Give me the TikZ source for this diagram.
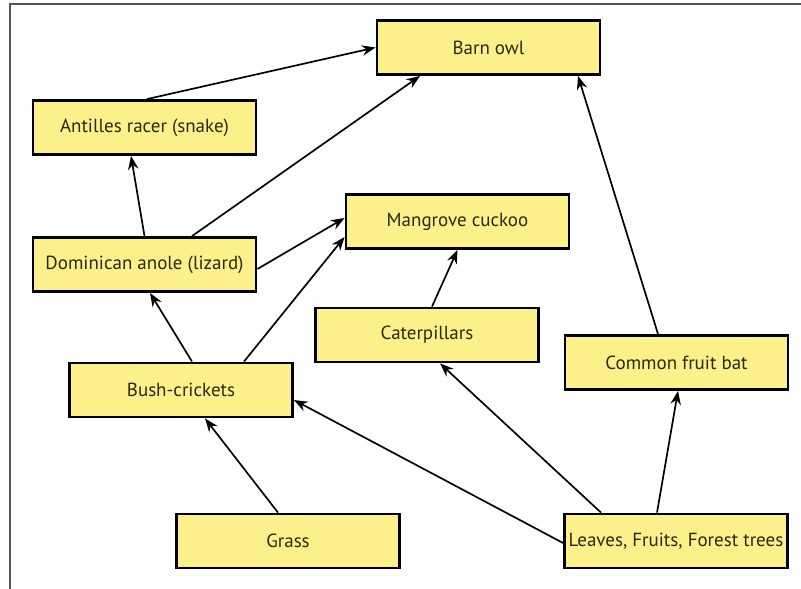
\documentclass[tikz,border=0pt]{standalone}
\usepackage{fontspec}
\setmainfont{PT Sans}
\usetikzlibrary{arrows.meta, positioning, calc}
\definecolor{cyellow}{HTML}{FBF08A}
\definecolor{cframe}{HTML}{555555}
\definecolor{ctext}{HTML}{2A2A14}
\tikzset{
  every picture/.style={font=\rmfamily},
  species/.style={draw=black, fill=cyellow, line width=2pt, minimum width=5.575cm, minimum height=1.35cm, inner sep=2pt, align=center, text=ctext, font=\rmfamily\fontsize{13.5}{15}\selectfont},
  eats/.style={-{Stealth[length=3.4mm, width=2.6mm]}, draw=black, line width=1.2pt},
}
\begin{document}
\begin{tikzpicture}[x=0.025cm, y=-0.025cm]
  \useasboundingbox (0,0) rectangle (801,589);
  \draw[cframe, line width=1pt] (10,589) -- (10,4) -- (801,4);

  \node[species] (owl) at (488.5,47.5) {Barn owl};
  \node[species] (ant) at (144.5,127.5) {Antilles racer (snake)};
  \node[species] (dom) at (144.5,264.5) {Dominican anole (lizard)};
  \node[species] (man) at (457.5,221.5) {Mangrove cuckoo};
  \node[species] (cat) at (427,335) {Caterpillars};
  \node[species] (bat) at (676.5,362.5) {Common fruit bat};
  \node[species] (bush) at (181,390) {Bush-crickets};
  \node[species] (grass) at (288,541) {Grass};
  \node[species] (leaf) at (676,541) {Leaves, Fruits, Forest trees};

  % who is eaten by whom
  \draw[eats] ($(ant.north)+(2.5,0)$) -- (owl.west);
  \draw[eats] ($(dom.north)+(47.5,0)$) -- ($(owl.south)+(-68.5,0)$);
  \draw[eats] (dom.north) -- ($(ant.south)+(-13.5,0)$);
  \draw[eats] ($(dom.east)+(0,4.5)$) -- ($(man.west)+(0,-3.5)$);
  \draw[eats] ($(bush.north)+(11,0)$) -- ($(dom.south)+(5.5,0)$);
  \draw[eats] ($(bush.north)+(63,0)$) -- ($(man.west)+(0,15.5)$);
  \draw[eats] ($(grass.north)+(-10,0)$) -- ($(bush.south)+(24,0)$);
  \draw[eats] ($(leaf.west)+(0,2)$) -- ($(bush.east)+(0,10)$);
  \draw[eats] ($(leaf.north)+(-75,0)$) -- ($(cat.south)+(13,0)$);
  \draw[eats] ($(leaf.north)+(-19,0)$) -- ($(bat.south)+(1.5,0)$);
  \draw[eats] ($(cat.north)+(5,0)$) -- (man.south);
  \draw[eats] ($(bat.north)+(-18.5,0)$) -- ($(owl.south)+(89.5,0)$);
\end{tikzpicture}
\end{document}
